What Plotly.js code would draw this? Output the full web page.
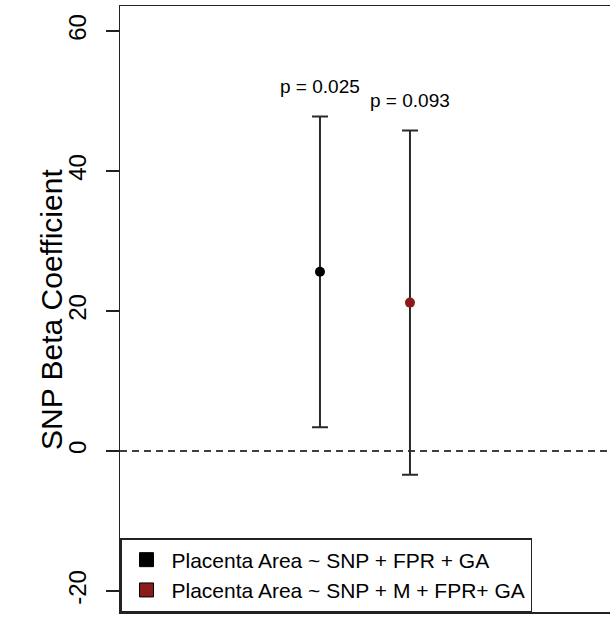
<!DOCTYPE html>
<html>
<head>
<meta charset="utf-8">
<script src="https://cdn.plot.ly/plotly-3.0.1.min.js"></script>
<style>
html, body { margin: 0; padding: 0; overflow: hidden; background: #fff; }
#chart { width: 625px; height: 617px; }
</style>
</head>
<body>
<div id="chart"></div>
<script>
// Data
var models = ['Placenta Area ~ SNP + FPR + GA', 'Placenta Area ~ SNP + M + FPR+ GA'];
var beta = [25.6, 21.2];
var ciLower = [3.4, -3.4];
var ciUpper = [47.8, 45.8];
var pLabels = ['p = 0.025', 'p = 0.093'];
var colors = ['#000000', '#8b1a1a'];
var yTicks = [-20, 0, 20, 40, 60];
var yTitle = 'SNP Beta Coefficient';

var traces = [];
for (var i = 0; i < models.length; i++) {
  traces.push({
    type: 'scatter', mode: 'markers',
    x: [models[i]], y: [beta[i]],
    marker: { color: colors[i], size: 10 },
    error_y: {
      type: 'data', symmetric: false,
      array: [ciUpper[i] - beta[i]],
      arrayminus: [beta[i] - ciLower[i]],
      color: '#2a2a2a', thickness: 2, width: 8
    },
    showlegend: false, hoverinfo: 'skip'
  });
}
// legend entries (square keys)
for (var j = 0; j < models.length; j++) {
  traces.push({
    type: 'scatter', mode: 'markers',
    x: [null], y: [null], name: models[j],
    marker: { symbol: 'square', color: colors[j], size: 14, line: { color: '#000', width: 1 } },
    showlegend: true
  });
}

var annotations = [];
for (var k = 0; k < models.length; k++) {
  annotations.push({
    x: models[k], y: ciUpper[k] + 4.3, xref: 'x', yref: 'y',
    text: pLabels[k], showarrow: false,
    xanchor: 'center', yanchor: 'middle',
    font: { family: 'Liberation Sans, Arial, sans-serif', size: 19, color: '#000' }
  });
}
// y-axis title
annotations.push({
  xref: 'paper', yref: 'paper', x: -0.1394, y: 0.5,
  text: yTitle, showarrow: false, textangle: -90,
  xanchor: 'center', yanchor: 'middle',
  font: { family: 'Liberation Sans, Arial, sans-serif', size: 30, color: '#000' }
});

var layout = {
  width: 625, height: 617,
  margin: { l: 120, r: 10, t: 6, b: 5 },
  paper_bgcolor: '#fff', plot_bgcolor: '#fff',
  font: { family: 'Liberation Sans, Arial, sans-serif', color: '#000' },
  xaxis: {
    type: 'category', categoryorder: 'array', categoryarray: models,
    range: [-2.222, 3.278],
    showticklabels: false, ticks: '', showgrid: false, zeroline: false,
    showline: true, mirror: true, linecolor: '#222', linewidth: 1.5
  },
  yaxis: {
    range: [-23, 63.57],
    tickvals: yTicks, ticktext: yTicks.map(String),
    ticks: 'outside', ticklen: 13, tickwidth: 1.5, tickcolor: '#222',
    tickangle: -90, ticklabelstandoff: 10,
    tickfont: { size: 24, color: '#000' },
    showgrid: false, zeroline: false,
    showline: true, mirror: true, linecolor: '#222', linewidth: 1.5
  },
  shapes: [{
    type: 'line', xref: 'paper', x0: 0, x1: 1, yref: 'y', y0: 0, y1: 0,
    line: { color: '#000', width: 1.5, dash: '7px,5px' }, layer: 'below'
  }],
  annotations: annotations,
  showlegend: true,
  legend: {
    x: 0, y: 0, xanchor: 'left', yanchor: 'bottom',
    bgcolor: '#fff', bordercolor: '#222', borderwidth: 1.5,
    font: { size: 21, color: '#000' }, itemwidth: 40
  }
};

Plotly.newPlot('chart', traces, layout, { displayModeBar: false, staticPlot: true });
</script>
</body>
</html>
